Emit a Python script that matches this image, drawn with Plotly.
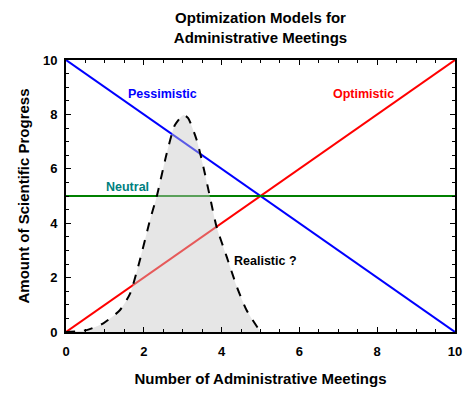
import plotly.graph_objects as go

x_lin = [0, 10]
optimistic = [0, 10]
pessimistic = [10, 0]
neutral = [5, 5]

real_x = [0, 0.53, 0.96, 1.39, 1.65, 1.90, 2.16, 2.33, 2.59, 2.80, 3.02, 3.14, 3.36, 3.53, 3.70, 3.87, 4.13, 4.39, 4.64, 5.0]
real_y = [0, 0.07, 0.32, 0.81, 1.42, 2.65, 4.12, 4.97, 6.57, 7.61, 7.98, 7.86, 7.06, 6.08, 4.97, 3.87, 2.77, 1.67, 0.81, 0.0]

labels = ["Pessimistic", "Optimistic", "Neutral", "Realistic ?"]
label_x = [2.49, 7.66, 1.59, 5.13]
label_y = [8.75, 8.75, 5.33, 2.62]
label_colors = ["#0000ff", "#ff0000", "#008080", "#000000"]

FONT = "Arial, Liberation Sans, sans-serif"

fig = go.Figure()
fig.add_trace(go.Scatter(x=x_lin, y=optimistic, mode="lines", line=dict(color="#ff0000", width=2)))
fig.add_trace(go.Scatter(x=x_lin, y=pessimistic, mode="lines", line=dict(color="#0000ff", width=2)))
fig.add_trace(go.Scatter(x=x_lin, y=neutral, mode="lines", line=dict(color="#008000", width=2)))
fig.add_trace(go.Scatter(x=real_x, y=real_y, mode="lines", fill="tozeroy",
                         fillcolor="rgba(200,200,200,0.45)",
                         line=dict(color="#000000", width=2, dash="dash", shape="spline", smoothing=0.6)))

for t, xx, yy, c in zip(labels, label_x, label_y, label_colors):
    fig.add_annotation(x=xx, y=yy, text=t, showarrow=False,
                       font=dict(family=FONT, size=12.5, color=c, weight="bold"))

axis_common = dict(showgrid=False, zeroline=False, showline=True, linecolor="black", linewidth=2,
                   mirror="allticks", ticks="inside", ticklen=5, tickwidth=1, tickcolor="black",
                   automargin=False,
                   tickfont=dict(family=FONT, size=13, color="black", weight="bold"),
                   minor=dict(ticks="inside", ticklen=3, dtick=0.5, tickcolor="black"))

fig.update_xaxes(range=[0, 10], dtick=2, ticklabelstandoff=6, **axis_common,
                 title=dict(text="Number of Administrative Meetings",
                            font=dict(family=FONT, size=15, color="black", weight="bold"), standoff=16))
fig.update_yaxes(range=[0, 10], dtick=2, ticklabelstandoff=4, **axis_common,
                 title=dict(text="Amount of Scientific Progress",
                            font=dict(family=FONT, size=15, color="black", weight="bold"), standoff=10))

fig.update_layout(
    width=468, height=387,
    margin=dict(l=58, r=21, t=52, b=63),
    paper_bgcolor="white", plot_bgcolor="white",
    showlegend=False,
    title=dict(text="Optimization Models for<br>Administrative Meetings", x=0.5, xref="paper",
               xanchor="center", y=0.96, yanchor="top",
               font=dict(family=FONT, size=15, color="black", weight="bold")),
)

fig.write_html("out.html")
